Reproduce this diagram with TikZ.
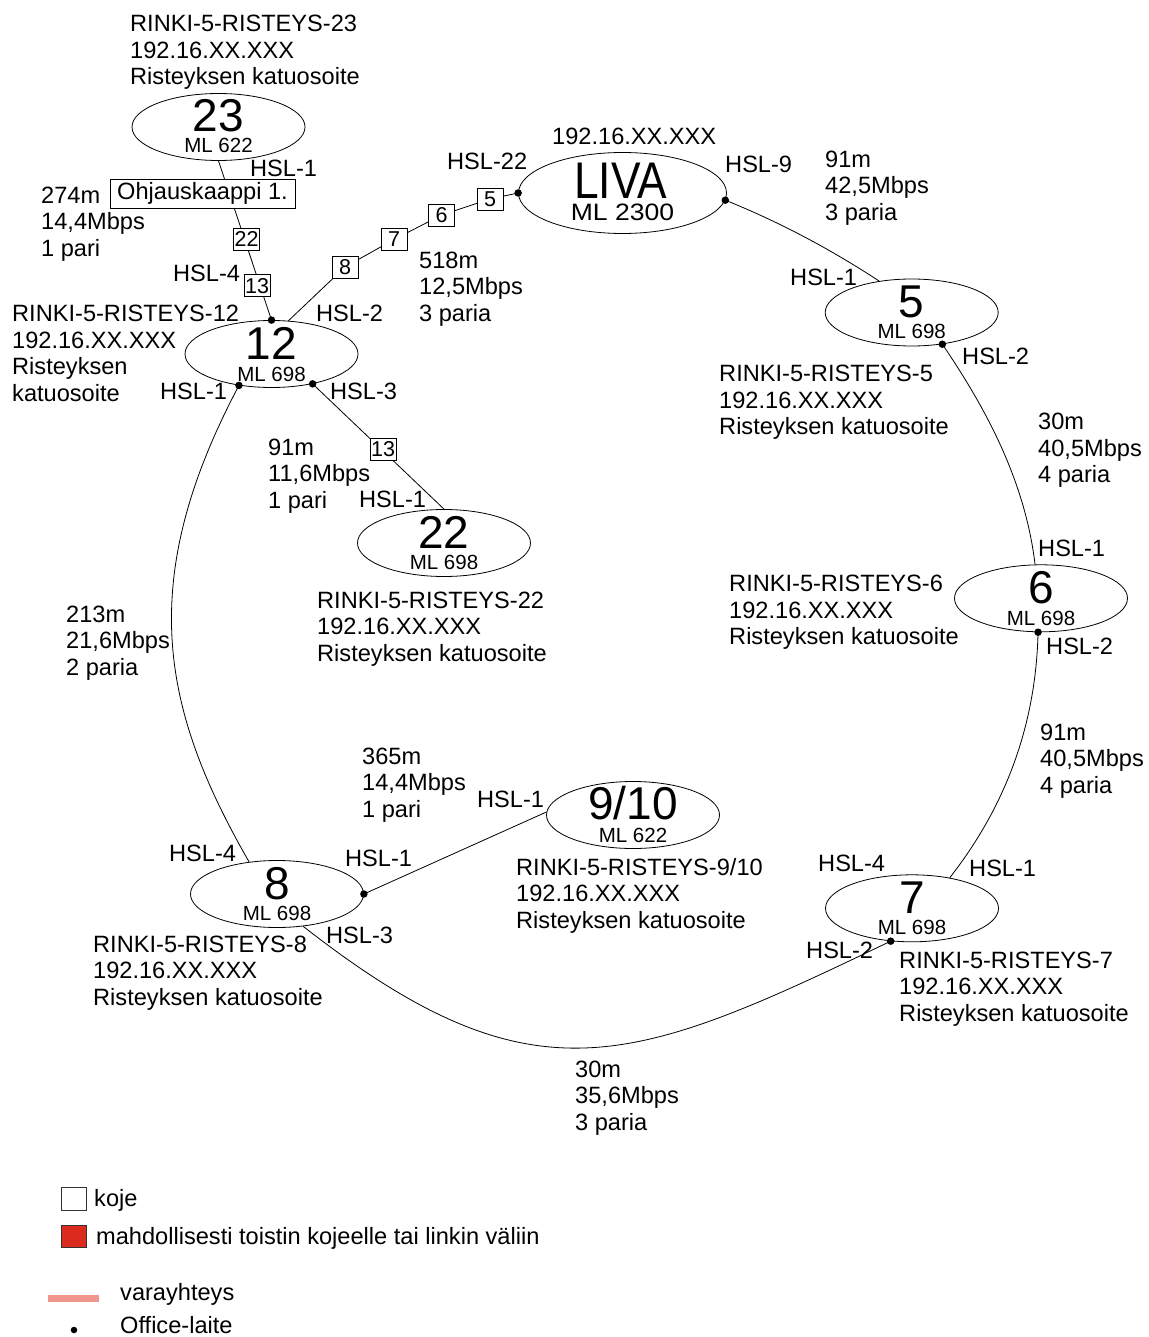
\documentclass[tikz,border=0pt]{standalone}
\usepackage{fontspec}
\setmainfont{Liberation Sans}
\usetikzlibrary{shapes.geometric,calc}
\pgfdeclarelayer{cables}
\pgfsetlayers{cables,main}

\definecolor{repeater}{HTML}{DC2A1E}
\definecolor{backup}{HTML}{F0968F}

\tikzset{
  lbl/.style={font=\fontsize{23.6}{26.5}\selectfont, inner sep=0pt, align=left, anchor=north west},
  junction/.style={ellipse, draw, line width=0.8pt, fill=white, minimum width=173pt, minimum height=67pt, inner sep=0pt},
  bignum/.style={font=\fontsize{46}{46}\selectfont, inner sep=0pt},
  model/.style={font=\fontsize{20.5}{20.5}\selectfont, inner sep=0pt},
  kojebox/.style={draw, fill=white, line width=0.7pt, font=\fontsize{21.5}{21.5}\selectfont, inner sep=0pt, minimum width=26pt, minimum height=22pt},
  port/.style={circle, fill=black, inner sep=0pt, minimum size=7.5pt},
  cable/.style={line width=0.8pt},
}

\begin{document}
\begin{tikzpicture}[x=1pt, y=-1pt]
\useasboundingbox (0,0) rectangle (1148,1337);

% ---------- junctions ----------
\node[junction] (n23) at (218.5,127) {};
\node[junction, minimum width=208pt, minimum height=81pt] (liva) at (622.5,193) {};
\node[junction] (n5) at (911.7,312.5) {};
\node[junction] (n12) at (271.5,354) {};
\node[junction] (n22) at (444,543) {};
\node[junction] (n6) at (1041,598.3) {};
\node[junction] (n910) at (633,815) {};
\node[junction] (n8) at (277,894) {};
\node[junction] (n7) at (912,908.3) {};

\node[bignum] (num23) at ($(n23)+(0,-11)$) {23};
\node[model] (ml23) at ($(n23)+(0,18.5)$) {ML 622};
\node[inner sep=0pt, font=\fontsize{51.5}{51.5}\selectfont] (numliva) at (620.5,180.5) {\scalebox{0.86}[1]{LIVA}};
\node[inner sep=0pt, font=\fontsize{23.7}{23.7}\selectfont] (mlliva) at (622.5,212) {\scalebox{1.12}[1]{ML 2300}};
\node[bignum] (num5) at ($(n5)+(0,-11)$) {5};
\node[model] (ml5) at ($(n5)+(0,19)$) {ML 698};
\node[bignum] (num12) at ($(n12)+(0,-11)$) {12};
\node[model] (ml12) at ($(n12)+(0,20)$) {ML 698};
\node[bignum] (num22) at ($(n22)+(0,-10.5)$) {22};
\node[model] (ml22) at ($(n22)+(0,19.5)$) {ML 698};
\node[bignum] (num6) at ($(n6)+(0,-11)$) {6};
\node[model] (ml6) at ($(n6)+(0,20)$) {ML 698};
\node[bignum] (num910) at ($(n910)+(0,-11.5)$) {9/10};
\node[model] (ml910) at ($(n910)+(0,20)$) {ML 622};
\node[bignum] (num8) at ($(n8)+(0,-10)$) {8};
\node[model] (ml8) at ($(n8)+(0,19)$) {ML 698};
\node[bignum] (num7) at ($(n7)+(0,-11)$) {7};
\node[model] (ml7) at ($(n7)+(0,19.5)$) {ML 698};

% ---------- devices along the links ----------
\node[draw, fill=white, line width=0.7pt, inner sep=0pt, minimum width=185pt, minimum height=29pt,
      font=\fontsize{23.6}{23.6}\selectfont] (ohj) at (202.5,193.7) {Ohjauskaappi 1.};
\node[kojebox] (k22) at (246.7,239.3) {22};
\node[kojebox] (k13a) at (257.2,285.8) {13};
\node[kojebox] (k8) at (345,267) {8};
\node[kojebox] (k7) at (394,239.5) {7};
\node[kojebox] (k6) at (441.7,215) {6};
\node[kojebox] (k5) at (490,199) {5};
\node[kojebox] (k13b) at (383,449) {13};

% ---------- office ports ----------
\node[port] (p12t) at (n12.north) {};
\node[port] (p12l) at (n12.224) {};
\node[port] (p12r) at (n12.-36) {};
\node[port] (pliva1) at (liva.180) {};
\node[port] (pliva2) at (liva.-4) {};
\node[port] (p5) at (n5.-46) {};
\node[port] (p6) at (n6.265) {};
\node[port] (p7) at (n7.237) {};
\node[port] (p8) at (n8.east) {};

% ---------- cables ----------
\begin{pgfonlayer}{cables}
\draw[cable] (n23.south) -- (p12t.center);
\draw[cable] (n12.63) -- (k8.center) -- (k7.center) -- (k6.center) -- (k5.center) -- (pliva1.center);
\draw[cable] (p12r.center) -- (n22.north);
\draw[cable] (p8.center) -- (n910.178);
\draw[cable] (pliva2.center) .. controls (777.8,221.3) and (829.2,248.3) .. (n5.136);
\draw[cable] (p5.center) .. controls (985,407) and (1025,480) .. (n6.100);
\draw[cable] (p6.center) .. controls (1036,723.5) and (1006.6,805.1) .. (n7.39);
\draw[cable] (p7.center) .. controls (631,1066) and (533,1106) .. (n8.-51);
\draw[cable] (n8.131) .. controls (161.3,709.1) and (135,581.6) .. (p12l.center);
\end{pgfonlayer}

% ---------- labels ----------
\node[lbl] (t23) at (130,15) {RINKI-5-RISTEYS-23\\192.16.XX.XXX\\Risteyksen katuosoite};
\node[lbl] (h23) at (250,159.5) {HSL-1};
\node[lbl] (c2312) at (41,186.5) {274m\\14,4Mbps\\1 pari};
\node[lbl] (h12a) at (173,265) {HSL-4};
\node[lbl] (t12) at (12,305) {RINKI-5-RISTEYS-12\\192.16.XX.XXX\\Risteyksen\\katuosoite};
\node[lbl] (h12b) at (160,383.3) {HSL-1};
\node[lbl] (h12c) at (316,305) {HSL-2};
\node[lbl] (h12d) at (330,383.3) {HSL-3};
\node[lbl] (c12l) at (419,251.7) {518m\\12,5Mbps\\3 paria};
\node[lbl] (hl22) at (447,153.3) {HSL-22};
\node[lbl] (tl) at (552,128.3) {192.16.XX.XXX};
\node[lbl] (hl9) at (725,156) {HSL-9};
\node[lbl] (cl5) at (825,150.5) {91m\\42,5Mbps\\3 paria};
\node[lbl] (h5a) at (790,268.5) {HSL-1};
\node[lbl] (h5b) at (962,348.3) {HSL-2};
\node[lbl] (t5) at (719,365) {RINKI-5-RISTEYS-5\\192.16.XX.XXX\\Risteyksen katuosoite};
\node[lbl] (c56) at (1038,413.3) {30m\\40,5Mbps\\4 paria};
\node[lbl] (h6a) at (1038,540) {HSL-1};
\node[lbl] (t6) at (729,575) {RINKI-5-RISTEYS-6\\192.16.XX.XXX\\Risteyksen katuosoite};
\node[lbl] (h6b) at (1046,638.3) {HSL-2};
\node[lbl] (c67) at (1040,723.5) {91m\\40,5Mbps\\4 paria};
\node[lbl] (c1222) at (268,438.5) {91m\\11,6Mbps\\1 pari};
\node[lbl] (h22) at (359,491) {HSL-1};
\node[lbl] (t22) at (317,591.5) {RINKI-5-RISTEYS-22\\192.16.XX.XXX\\Risteyksen katuosoite};
\node[lbl] (c812) at (66,605.5) {213m\\21,6Mbps\\2 paria};
\node[lbl] (c8910) at (362,747.5) {365m\\14,4Mbps\\1 pari};
\node[lbl] (h910) at (477,790.5) {HSL-1};
\node[lbl] (h8a) at (169,845) {HSL-4};
\node[lbl] (h8b) at (345,850) {HSL-1};
\node[lbl] (t910) at (516,858) {RINKI-5-RISTEYS-9/10\\192.16.XX.XXX\\Risteyksen katuosoite};
\node[lbl] (h7a) at (818,855) {HSL-4};
\node[lbl] (h7b) at (969,860) {HSL-1};
\node[lbl] (h8c) at (326,926.7) {HSL-3};
\node[lbl] (t8) at (93,935.5) {RINKI-5-RISTEYS-8\\192.16.XX.XXX\\Risteyksen katuosoite};
\node[lbl] (h7c) at (806,941.7) {HSL-2};
\node[lbl] (t7) at (899,951.7) {RINKI-5-RISTEYS-7\\192.16.XX.XXX\\Risteyksen katuosoite};
\node[lbl] (c78) at (575,1060.5) {30m\\35,6Mbps\\3 paria};

% ---------- legend ----------
\node[draw=black!80, fill=white, line width=0.7pt, inner sep=0pt, minimum width=25pt, minimum height=23pt] (lgkoje) at (73.5,1198.5) {};
\node[lbl] (lgkojet) at (94,1189) {koje};
\node[draw=black!80, fill=repeater, line width=0.7pt, inner sep=0pt, minimum width=25pt, minimum height=22pt] (lgrep) at (73.5,1236) {};
\node[lbl] (lgrept) at (96,1227.5) {mahdollisesti toistin kojeelle tai linkin väliin};
\coordinate (lgb1) at (48,1298);
\coordinate (lgb2) at (99,1298);
\draw[backup, line width=7pt] (lgb1) -- (lgb2);
\node[lbl] (lgbt) at (120,1283) {varayhteys};
\node[circle, fill=black, inner sep=0pt, minimum size=6.5pt] (lgdot) at (74,1330) {};
\node[lbl] (lgdott) at (120,1316.5) {Office-laite};
\end{tikzpicture}
\end{document}
